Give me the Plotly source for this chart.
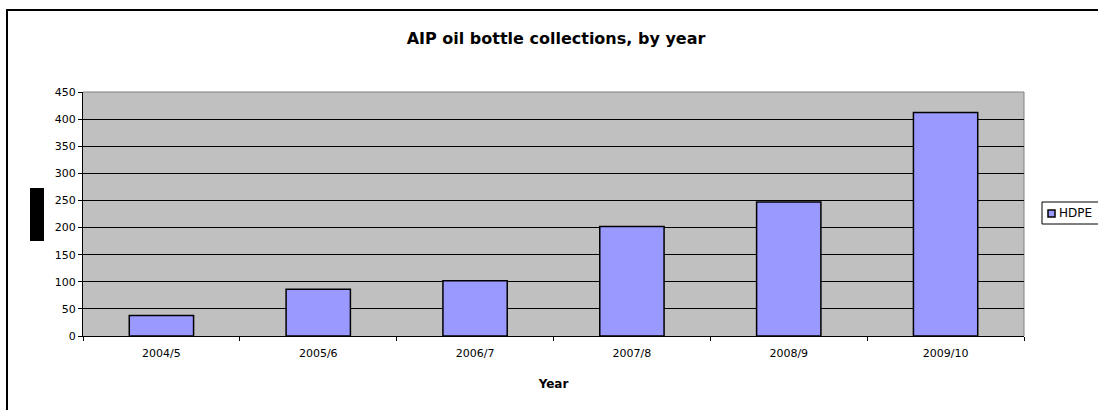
import plotly.graph_objects as go

years = ["2004/5", "2005/6", "2006/7", "2007/8", "2008/9", "2009/10"]
hdpe = [38, 86, 102, 202, 247, 412]
series_name = "HDPE"
title_text = "AIP oil bottle collections, by year"
x_title = "Year"

W, H = 1098, 410
L, R, T, B = 83, 1024, 92, 336  # plot area in pixels

def px_x(x):
    return (x - L) / (R - L)

def px_y(y):
    return (B - y) / (B - T)

FONT = "DejaVu Sans, Liberation Sans, Arial, sans-serif"
BAR_COLOR = "#9999FF"

fig = go.Figure()
fig.add_trace(go.Bar(
    x=years, y=hdpe, name=series_name,
    marker=dict(color=BAR_COLOR, line=dict(color="#000000", width=1.5)),
    showlegend=False,
))

shapes = [
    # plot area border (gray top and right)
    dict(type="line", xref="paper", yref="paper", x0=0, x1=1, y0=1, y1=1,
         line=dict(color="#808080", width=1), layer="below"),
    dict(type="line", xref="paper", yref="paper", x0=1, x1=1, y0=0, y1=1,
         line=dict(color="#808080", width=1), layer="below"),
    # outer chart frame
    dict(type="rect", xref="paper", yref="paper",
         x0=px_x(7), x1=px_x(1110), y0=px_y(420), y1=px_y(10),
         line=dict(color="#000000", width=2), fillcolor="rgba(0,0,0,0)"),
    # black box where the y-axis title would be
    dict(type="rect", xref="paper", yref="paper",
         x0=px_x(30), x1=px_x(44), y0=px_y(241), y1=px_y(188),
         line=dict(width=0), fillcolor="#000000"),
    # legend box
    dict(type="rect", xref="paper", yref="paper",
         x0=px_x(1042), x1=px_x(1110), y0=px_y(224), y1=px_y(202),
         line=dict(color="#000000", width=1), fillcolor="#FFFFFF"),
    # legend swatch
    dict(type="rect", xref="paper", yref="paper",
         x0=px_x(1048), x1=px_x(1055), y0=px_y(217), y1=px_y(210),
         line=dict(color="#000000", width=1.5), fillcolor=BAR_COLOR),
]

annotations = [
    dict(text=series_name, xref="paper", yref="paper",
         x=px_x(1057), y=px_y(213), xanchor="left", yanchor="middle",
         showarrow=False, font=dict(family=FONT, size=12, color="#000000")),
]

fig.update_layout(
    width=W, height=H,
    margin=dict(l=L, r=W - R, t=T, b=H - B),
    paper_bgcolor="#FFFFFF",
    plot_bgcolor="#C0C0C0",
    bargap=0.59,
    showlegend=False,
    font=dict(family=FONT, size=11, color="#000000"),
    title=dict(text="<b>" + title_text + "</b>", x=556 / W, xanchor="center",
               y=1 - 38 / H, yanchor="middle",
               font=dict(family=FONT, size=16, color="#000000")),
    xaxis=dict(
        type="category",
        showline=True, linecolor="#000000", linewidth=1,
        ticks="outside", tickson="boundaries", ticklen=4, tickcolor="#000000",
        showgrid=False,
        tickfont=dict(family=FONT, size=11),
        ticklabelstandoff=7,
        title=dict(text="<b>" + x_title + "</b>", standoff=20,
                   font=dict(family=FONT, size=12)),
        automargin=False,
    ),
    yaxis=dict(
        range=[0, 450], dtick=50, tick0=0,
        showline=True, linecolor="#000000", linewidth=1,
        ticks="outside", ticklen=4, tickcolor="#000000",
        showgrid=True, gridcolor="#000000", gridwidth=1,
        zeroline=False,
        tickfont=dict(family=FONT, size=11),
        automargin=False,
    ),
    shapes=shapes,
    annotations=annotations,
)

fig.write_html("out.html")
